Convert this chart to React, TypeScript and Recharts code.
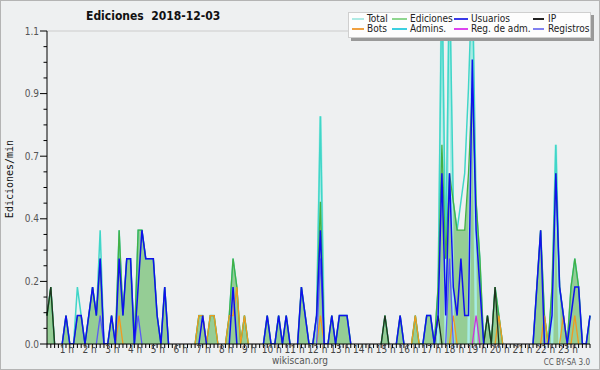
import React from "react";
import { ComposedChart, Area, Line, XAxis, YAxis, CartesianGrid } from "recharts";

// 10-minute slots, one row per hour (0 h .. 23 h)
const hourLabels = [
	"", "1 h", "2 h", "3 h", "4 h", "5 h", "6 h", "7 h", "8 h", "9 h", "10 h", "11 h",
	"12 h", "13 h", "14 h", "15 h", "16 h", "17 h", "18 h", "19 h", "20 h", "21 h", "22 h", "23 h",
];

const yMajorTicks = [0, 0.22, 0.44, 0.66, 0.88, 1.1];

const total = [
	0.1, 0.2, 0, 0, 0, 0.1,
	0, 0, 0.2, 0.1, 0, 0.1,
	0.2, 0.1, 0.4, 0, 0, 0.1,
	0, 0.4, 0.1, 0.3, 0.3, 0,
	0.4, 0.4, 0.3, 0.3, 0.3, 0.1,
	0, 0.2, 0, 0, 0, 0,
	0, 0, 0, 0, 0.1, 0.1,
	0, 0.1, 0.1, 0, 0, 0,
	0.1, 0.3, 0.2, 0, 0.1, 0,
	0, 0, 0, 0, 0.1, 0,
	0, 0.1, 0, 0.1, 0, 0,
	0, 0.2, 0.1, 0, 0, 0.1,
	0.8, 0, 0, 0.1, 0, 0.1,
	0.1, 0.1, 0, 0, 0, 0,
	0, 0, 0, 0, 0, 0.1,
	0, 0, 0, 0.1, 0, 0,
	0, 0.1, 0, 0, 0.1, 0.1,
	0, 0.2, 1.3, 0.3, 1.3, 0.5,
	0.4, 0.5, 0.6, 0.9, 1.3, 0.5,
	0.3, 0, 0.1, 0, 0.2, 0.1,
	0, 0, 0, 0, 0, 0,
	0, 0, 0, 0.2, 0.4, 0.1,
	0, 0.2, 0.7, 0.2, 0.1, 0,
	0.2, 0.3, 0.2, 0, 0, 0.1,
];

const ediciones = [
	0.1, 0.2, 0, 0, 0, 0.1,
	0, 0, 0.1, 0.1, 0, 0.1,
	0.2, 0.1, 0.3, 0, 0, 0.1,
	0, 0.4, 0.1, 0.3, 0.3, 0,
	0.4, 0.4, 0.3, 0.3, 0.3, 0.1,
	0, 0.2, 0, 0, 0, 0,
	0, 0, 0, 0, 0.1, 0.1,
	0, 0.1, 0.1, 0, 0, 0,
	0.1, 0.3, 0.2, 0, 0.1, 0,
	0, 0, 0, 0, 0.1, 0,
	0, 0.1, 0, 0.1, 0, 0,
	0, 0.2, 0.1, 0, 0, 0.1,
	0.5, 0, 0, 0.1, 0, 0.1,
	0.1, 0.1, 0, 0, 0, 0,
	0, 0, 0, 0, 0, 0.1,
	0, 0, 0, 0.1, 0, 0,
	0, 0.1, 0, 0, 0.1, 0.1,
	0, 0.2, 0.7, 0.3, 0.6, 0.5,
	0.4, 0.4, 0.4, 0.6, 0.9, 0.5,
	0.3, 0, 0.1, 0, 0.2, 0.1,
	0, 0, 0, 0, 0, 0,
	0, 0, 0, 0.2, 0.4, 0.1,
	0, 0.2, 0.6, 0.2, 0.1, 0,
	0.2, 0.3, 0.2, 0, 0, 0.1,
];

const usuarios = [
	0, 0, 0, 0, 0, 0.1,
	0, 0, 0.1, 0.1, 0, 0.1,
	0.2, 0.1, 0.3, 0, 0, 0.1,
	0, 0.3, 0.1, 0.3, 0.3, 0,
	0.2, 0.4, 0.3, 0.3, 0.3, 0.1,
	0, 0.2, 0, 0, 0, 0,
	0, 0, 0, 0, 0, 0.1,
	0, 0, 0, 0, 0, 0,
	0, 0.2, 0, 0, 0, 0,
	0, 0, 0, 0, 0.1, 0,
	0, 0.1, 0, 0.1, 0, 0,
	0, 0.2, 0.1, 0, 0, 0.1,
	0.4, 0, 0, 0.1, 0, 0.1,
	0.1, 0.1, 0, 0, 0, 0,
	0, 0, 0, 0, 0, 0,
	0, 0, 0, 0.1, 0, 0,
	0, 0, 0, 0, 0.1, 0.1,
	0, 0.1, 0.6, 0.1, 0.6, 0.2,
	0.1, 0.3, 0.1, 0.1, 1.0, 0.4,
	0.2, 0, 0, 0, 0, 0,
	0, 0, 0, 0, 0, 0,
	0, 0, 0, 0.2, 0.4, 0,
	0, 0.1, 0.6, 0.2, 0.1, 0,
	0.1, 0.2, 0.2, 0, 0, 0.1,
];

const ip = [
	0.1, 0.2, 0, 0, 0, 0,
	0, 0, 0, 0, 0, 0,
	0, 0, 0, 0, 0, 0,
	0, 0, 0, 0, 0, 0,
	0, 0, 0, 0, 0, 0,
	0, 0, 0, 0, 0, 0,
	0, 0, 0, 0, 0, 0,
	0, 0, 0, 0, 0, 0,
	0, 0, 0, 0, 0, 0,
	0, 0, 0, 0, 0, 0,
	0, 0, 0, 0, 0, 0,
	0, 0, 0, 0, 0, 0,
	0, 0, 0, 0, 0, 0,
	0, 0, 0, 0, 0, 0,
	0, 0, 0, 0, 0, 0.1,
	0, 0, 0, 0, 0, 0,
	0, 0, 0, 0, 0, 0,
	0, 0.1, 0, 0, 0, 0,
	0, 0, 0, 0, 0, 0,
	0, 0, 0.1, 0, 0.2, 0,
	0, 0, 0, 0, 0, 0,
	0, 0, 0, 0, 0, 0,
	0, 0, 0, 0, 0, 0,
	0, 0, 0, 0, 0, 0,
];

const bots = [
	0, 0, 0, 0, 0, 0,
	0, 0, 0, 0, 0, 0,
	0, 0, 0, 0, 0, 0,
	0, 0.1, 0, 0, 0, 0,
	0, 0, 0, 0, 0, 0,
	0, 0, 0, 0, 0, 0,
	0, 0, 0, 0, 0.1, 0.1,
	0, 0.1, 0.1, 0, 0, 0,
	0.1, 0.1, 0.2, 0, 0.1, 0,
	0, 0, 0, 0, 0, 0,
	0, 0, 0, 0, 0, 0,
	0, 0, 0, 0, 0, 0,
	0.1, 0, 0, 0, 0, 0,
	0, 0, 0, 0, 0, 0,
	0, 0, 0, 0, 0, 0,
	0, 0, 0, 0, 0, 0,
	0, 0.1, 0, 0, 0, 0,
	0, 0, 0, 0, 0, 0.1,
	0, 0, 0, 0, 0, 0,
	0, 0, 0, 0, 0, 0.1,
	0, 0, 0, 0, 0, 0,
	0, 0, 0, 0, 0, 0.1,
	0, 0, 0, 0, 0.1, 0,
	0, 0.1, 0, 0, 0, 0,
];

const admins = [
	0, 0, 0, 0, 0, 0,
	0, 0, 0, 0, 0, 0,
	0, 0, 0, 0, 0, 0,
	0, 0, 0, 0, 0, 0,
	0, 0, 0, 0, 0, 0,
	0, 0, 0, 0, 0, 0,
	0, 0, 0, 0, 0, 0,
	0, 0, 0, 0, 0, 0,
	0, 0, 0, 0, 0, 0,
	0, 0, 0, 0, 0, 0,
	0, 0, 0, 0, 0, 0,
	0, 0, 0, 0, 0, 0,
	0.8, 0, 0, 0, 0, 0,
	0, 0, 0, 0, 0, 0,
	0, 0, 0, 0, 0, 0,
	0, 0, 0, 0, 0, 0,
	0, 0, 0, 0, 0, 0,
	0, 0, 1.3, 0, 1.3, 0,
	0, 0, 0, 0, 1.3, 0,
	0, 0, 0, 0, 0, 0,
	0, 0, 0, 0, 0, 0,
	0, 0, 0, 0, 0, 0,
	0, 0, 0.7, 0, 0, 0,
	0, 0, 0, 0, 0, 0,
];

const regAdm = [
	0, 0, 0, 0, 0, 0,
	0, 0, 0, 0, 0, 0,
	0, 0, 0, 0, 0, 0,
	0, 0, 0, 0, 0, 0,
	0, 0, 0, 0, 0, 0,
	0, 0, 0, 0, 0, 0,
	0, 0, 0, 0, 0, 0,
	0, 0, 0, 0, 0, 0,
	0, 0, 0, 0, 0, 0,
	0, 0, 0, 0, 0, 0,
	0, 0, 0, 0, 0, 0,
	0, 0, 0, 0, 0, 0,
	0, 0, 0, 0, 0, 0,
	0, 0, 0, 0, 0, 0,
	0, 0, 0, 0, 0, 0,
	0, 0, 0, 0, 0, 0,
	0, 0, 0, 0, 0, 0,
	0, 0, 0, 0, 0, 0,
	0, 0, 0, 0, 0, 0.1,
	0, 0, 0, 0, 0, 0,
	0, 0, 0, 0, 0, 0,
	0, 0, 0, 0, 0, 0,
	0, 0, 0, 0, 0, 0,
	0, 0, 0, 0, 0, 0,
];

const registros = [
	0, 0, 0, 0, 0, 0,
	0, 0, 0, 0, 0, 0,
	0, 0, 0.1, 0, 0, 0,
	0, 0, 0, 0, 0, 0,
	0.1, 0, 0, 0, 0, 0,
	0, 0, 0, 0, 0, 0,
	0, 0, 0, 0, 0, 0,
	0, 0, 0, 0, 0, 0,
	0, 0, 0, 0, 0, 0,
	0, 0, 0, 0, 0, 0,
	0, 0, 0, 0, 0, 0,
	0, 0, 0, 0, 0, 0,
	0.3, 0, 0, 0, 0, 0,
	0, 0, 0, 0, 0, 0,
	0, 0, 0, 0, 0, 0,
	0, 0, 0, 0, 0, 0,
	0, 0, 0, 0, 0, 0,
	0, 0, 0, 0, 0.3, 0,
	0, 0, 0, 0, 0, 0,
	0, 0, 0, 0, 0, 0,
	0, 0, 0, 0, 0, 0,
	0, 0, 0, 0, 0, 0,
	0, 0, 0, 0, 0, 0,
	0, 0, 0, 0, 0, 0,
];

// hide long runs of zeros so the lines don't paint over the x axis
const trim = (arr: number[]) =>
	arr.map((v, k) => (v === 0 && !arr[k - 1] && !arr[k + 1] ? null : v));

const slots = ediciones.map((_, i) => i);

const series = {
	total: trim(total),
	ediciones: trim(ediciones),
	usuarios: trim(usuarios),
	ip: trim(ip),
	bots: trim(bots),
	admins: trim(admins),
	regAdm: trim(regAdm),
	registros: trim(registros),
};

const data = slots.map((i) => ({
	slot: i,
	total: series.total[i],
	ediciones: series.ediciones[i],
	usuarios: series.usuarios[i],
	ip: series.ip[i],
	bots: series.bots[i],
	admins: series.admins[i],
	regAdm: series.regAdm[i],
	registros: series.registros[i],
}));

// major ticks plus 3 minor ticks in between
const yTicks: number[] = [];
yMajorTicks.forEach((t, k) => {
	yTicks.push(t);
	const next = yMajorTicks[k + 1];
	if (next !== undefined) {
		for (let m = 1; m < 4; m++) yTicks.push(t + ((next - t) * m) / 4);
	}
});

const FONT = "'DejaVu Sans Condensed', 'Liberation Sans Narrow', 'DejaVu Sans', sans-serif";

const legendItems = [
	{ name: "Total", color: "#aeeae4", line: 352, lineW: 12, text: 367, top: 19 },
	{ name: "Ediciones", color: "#8fd68f", line: 392, lineW: 15, text: 410, top: 19 },
	{ name: "Usuarios", color: "#3a3ae8", line: 454, lineW: 14, text: 471, top: 19 },
	{ name: "IP", color: "#222222", line: 533, lineW: 11, text: 548, top: 19 },
	{ name: "Bots", color: "#f0a040", line: 352, lineW: 12, text: 367, top: 29 },
	{ name: "Admins.", color: "#3ccfe0", line: 392, lineW: 15, text: 410, top: 29 },
	{ name: "Reg. de adm.", color: "#dd44ee", line: 454, lineW: 14, text: 471, top: 29 },
	{ name: "Registros", color: "#8080f0", line: 533, lineW: 11, text: 548, top: 29 },
];

const YTick = ({ x, y, payload }: any) => {
	const v = payload.value as number;
	const major = yMajorTicks.some((t) => Math.abs(t - v) < 1e-6);
	return (
		<g>
			<line x1={x - (major ? 7 : 3.5)} x2={x} y1={y} y2={y} stroke="#000" />
			{major && (
				<text x={x - 8} y={y} dy="0.35em" textAnchor="end" fontSize={10} fill="#555" fontFamily={FONT}>
					{v.toFixed(1)}
				</text>
			)}
		</g>
	);
};

const XTick = ({ x, y, payload }: any) => {
	const v = payload.value as number;
	const label = v % 6 === 0 ? hourLabels[v / 6] : "";
	return (
		<g>
			<line x1={x} x2={x} y1={y} y2={y + 4} stroke="#000" />
			{label && (
				<text x={x - 3} y={y + 9} textAnchor="middle" fontSize={10} fill="#444" fontFamily={FONT}>
					{label}
				</text>
			)}
		</g>
	);
};

export default function App() {
	return (
		<div
			style={{
				position: "absolute",
				left: 0,
				top: 0,
				width: 600,
				height: 370,
				background: "#eef0f1",
				boxShadow: "inset 0 0 0 1px #b4b4b4",
				fontFamily: FONT,
			}}
		>
			<ComposedChart width={600} height={370} data={data} margin={{ top: 31, right: 10, bottom: 0, left: 0 }}>
				<YAxis yAxisId="grid" hide domain={[0, 1.1]} ticks={yMajorTicks} type="number" />
				<CartesianGrid yAxisId="grid" vertical={false} stroke="#cccccc" />
				<XAxis
					dataKey="slot"
					type="number"
					domain={[0, 143]}
					ticks={slots}
					interval={0}
					height={26}
					tickSize={0}
					tickMargin={0}
					tickLine={false}
					tick={<XTick />}
					axisLine={{ stroke: "#000" }}
				/>
				<YAxis
					domain={[0, 1.1]}
					ticks={yTicks}
					interval={0}
					allowDataOverflow
					width={47}
					tickSize={0}
					tickMargin={0}
					tickLine={false}
					tick={<YTick />}
					axisLine={{ stroke: "#000" }}
				/>
				<Area dataKey="ediciones" stroke="none" fill="#95cd95" fillOpacity={1} isAnimationActive={false} type="linear" />
				<Line dataKey="admins" stroke="#a6ebe4" strokeWidth={2.5} dot={false} isAnimationActive={false} type="linear" />
				<Line dataKey="total" stroke="#40d6c8" strokeWidth={1.5} dot={false} isAnimationActive={false} type="linear" />
				<Line dataKey="ediciones" stroke="#44b044" strokeWidth={1.3} dot={false} isAnimationActive={false} type="linear" />
				<Line dataKey="bots" stroke="#f09a20" strokeWidth={1.3} dot={false} isAnimationActive={false} type="linear" />
				<Line dataKey="registros" stroke="#5a5af5" strokeWidth={1.3} dot={false} isAnimationActive={false} type="linear" />
				<Line dataKey="regAdm" stroke="#cc33dd" strokeWidth={1.3} dot={false} isAnimationActive={false} type="linear" />
				<Line dataKey="ip" stroke="#1f331f" strokeWidth={1.3} dot={false} isAnimationActive={false} type="linear" />
				<Line dataKey="usuarios" stroke="#1010ee" strokeWidth={1.5} dot={false} isAnimationActive={false} type="linear" />
			</ComposedChart>

			<div style={{ position: "absolute", left: 86, top: 9, fontSize: 12, lineHeight: "14px", fontWeight: "bold", color: "#111", whiteSpace: "pre" }}>
				Ediciones  2018-12-03
			</div>

			<div
				style={{
					position: "absolute",
					left: 10,
					top: 179,
					transform: "translate(-50%, -50%) rotate(-90deg)",
					fontFamily: "'DejaVu Sans Mono', monospace",
					fontSize: 10,
					lineHeight: "12px",
					color: "#111",
					whiteSpace: "nowrap",
				}}
			>
				Ediciones/min
			</div>

			<div
				style={{
					position: "absolute",
					left: 348,
					top: 12,
					width: 243,
					height: 26,
					background: "#fdfdfd",
					border: "1px solid #cfcfcf",
					boxShadow: "3px 3px 0 #999",
					boxSizing: "border-box",
				}}
			/>
			{legendItems.map((it) => (
				<React.Fragment key={it.name}>
					<div
						style={{
							position: "absolute",
							left: it.line,
							top: it.top - 0.75,
							width: it.lineW,
							height: 1.5,
							background: it.color,
						}}
					/>
					<div
						style={{
							position: "absolute",
							left: it.text,
							top: it.top - 5,
							fontSize: 10,
							lineHeight: "10px",
							color: "#222",
							whiteSpace: "nowrap",
						}}
					>
						{it.name}
					</div>
				</React.Fragment>
			))}

			<div style={{ position: "absolute", left: 0, width: 600, top: 356, textAlign: "center", fontSize: 10, lineHeight: "10px", color: "#555" }}>
				wikiscan.org
			</div>
			<div style={{ position: "absolute", right: 10, top: 359, fontSize: 8, lineHeight: "8px", color: "#555" }}>CC BY-SA 3.0</div>
		</div>
	);
}
